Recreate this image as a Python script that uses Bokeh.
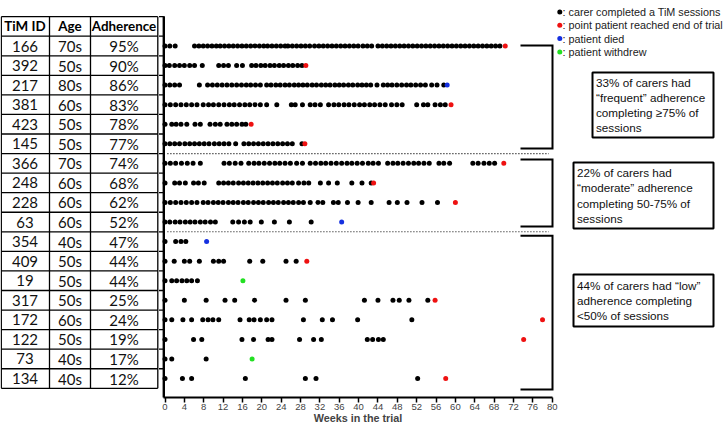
from bokeh.plotting import figure
from bokeh.models import Range1d, LinearAxis, FixedTicker, ColumnDataSource
from bokeh.core.properties import value
from bokeh.embed import file_html
from bokeh.resources import INLINE

# ---------------- data ----------------
tim_ids = [166, 392, 217, 381, 423, 145, 366, 248, 228, 63, 354, 409, 19, 317, 172, 122, 73, 134]
age_groups = ["70s", "50s", "80s", "60s", "50s", "50s", "70s", "60s", "60s", "60s",
              "40s", "50s", "50s", "50s", "60s", "50s", "40s", "40s"]
adherence_pct = [95, 90, 86, 83, 78, 77, 74, 68, 62, 52, 47, 44, 44, 25, 24, 19, 17, 12]

# weeks in the trial at which the carer completed a TiM session
s166 = [0, 1.0, 2.1, 6.1, 7.0, 7.9, 8.8, 9.7, 10.6, 11.4, 12.3, 13.2, 14.1, 15.0, 15.9, 16.8, 17.7,
        18.6, 19.5, 20.4, 21.2, 22.1, 23.0, 23.9, 24.8, 25.4, 26.3, 27.2, 28.1, 29.0, 29.9, 30.9,
        31.8, 32.7, 33.6, 34.5, 35.4, 36.3, 37.2, 38.1, 39.0, 39.9, 40.9, 41.8, 42.7, 44.0, 44.9,
        45.8, 46.7, 47.6, 48.5, 49.4, 50.3, 51.2, 52.1, 53.0, 53.9, 54.8, 55.7, 56.6, 57.5, 58.4,
        59.3, 60.2, 61.1, 62.0, 62.9, 63.8, 64.7, 65.6, 66.5, 67.4, 68.3, 69.2]
s392 = [0, 0.9, 2.0, 3.0, 4.0, 5.1, 6.1, 7.7, 11.1, 12.1, 13.1, 14.8, 16.0, 17.9, 18.8, 19.8, 20.7,
        21.7, 22.6, 23.6, 24.5, 25.5, 26.4, 27.4, 28.3]
s217 = [0, 1.0, 2.0, 3.0, 7.1, 8.8, 9.8, 10.8, 11.8, 12.8, 13.8, 14.8, 15.8, 16.8, 17.7, 18.7, 19.7,
        21.0, 21.9, 22.9, 23.8, 24.8, 25.7, 26.7, 27.6, 28.5, 29.4, 30.4, 31.3, 32.3, 33.2, 34.1,
        35.1, 36.0, 36.9, 37.9, 38.8, 39.8, 40.7, 41.6, 42.5, 43.8, 45.1, 46.0, 46.9, 47.9, 48.9,
        49.9, 50.8, 51.8, 52.8, 53.8, 55.1, 56.2, 57.6]
s381 = [0, 1.1, 2.2, 3.3, 4.4, 5.5, 6.6, 7.9, 9.0, 10.0, 11.1, 12.2, 13.3, 14.3, 15.4, 16.5, 17.5,
        18.6, 19.7, 21.0, 23.1, 26.1, 26.9, 28.4, 30.0, 31.0, 32.1, 33.8, 34.9, 35.9, 37.0, 38.0,
        39.1, 40.2, 41.2, 42.3, 43.3, 44.4, 45.5, 46.8, 47.9, 49.0, 52.0, 53.4, 54.3, 55.8, 56.9, 57.9]
s423 = [0, 1.4, 2.3, 3.3, 4.5, 6.2, 7.3, 9.3, 10.4, 11.4, 12.8, 13.8, 14.8, 15.9, 16.7]
s145 = [0, 1.0, 2.0, 3.0, 4.1, 5.1, 6.1, 7.1, 8.1, 9.1, 10.2, 11.2, 12.2, 13.2, 14.6, 16.3, 17.3,
        18.3, 19.3, 20.3, 21.3, 22.3, 23.3, 24.3, 25.3, 26.3, 28.3]
s366 = [0, 1.1, 2.2, 3.4, 4.6, 5.8, 7.3, 12.2, 13.3, 14.5, 15.7, 17.3, 18.4, 19.4, 20.5, 21.6, 22.7,
        23.7, 24.8, 25.9, 27.2, 28.4, 30.0, 31.1, 32.2, 33.2, 34.3, 35.4, 36.5, 37.6, 38.6, 39.7,
        40.8, 42.0, 43.0, 44.1, 46.0, 47.1, 48.1, 49.2, 50.3, 51.4, 52.4, 53.5, 54.6, 56.6, 57.6,
        58.8, 63.6, 64.7, 65.9, 67.0, 68.1]
s248 = [0, 2.0, 3.0, 4.2, 5.9, 6.9, 8.1, 11.1, 12.1, 13.1, 14.1, 15.2, 16.2, 17.2, 18.2, 19.2, 20.2,
        21.2, 22.2, 23.2, 24.3, 25.3, 26.3, 27.6, 28.7, 29.7, 32.1, 33.8, 35.6, 38.6, 40.7, 42.6]
s228 = [0, 1.1, 2.2, 3.3, 4.4, 5.5, 6.6, 7.9, 8.9, 10.0, 11.0, 12.0, 13.1, 14.1, 15.1, 16.2, 17.2,
        18.3, 19.3, 20.3, 21.4, 22.4, 23.4, 24.5, 25.5, 26.5, 27.6, 28.6, 30.0, 31.6, 32.6, 34.8,
        35.8, 37.7, 39.9, 42.6, 46.3, 48.0, 50.0, 53.1, 56.3]
s63 = [0, 1.0, 2.1, 3.1, 4.2, 5.2, 6.2, 7.3, 8.3, 9.4, 10.4, 14.0, 15.2, 16.4, 17.6, 19.9, 22.6,
       25.7, 30.2]
s354 = [0, 2.2, 3.3, 4.3]
s409 = [0, 1.9, 4.0, 5.1, 7.1, 10.0, 11.1, 12.1, 17.5, 20.2, 25.0, 27.1]
s19 = [0, 1.4, 2.4, 3.5, 4.5, 5.5, 6.7]
s317 = [0, 4.0, 8.5, 12.4, 14.4, 18.5, 25.0, 29.0, 41.2, 44.0, 47.1, 48.4, 50.4, 54.3]
s172 = [0, 1.4, 3.7, 5.5, 7.8, 8.9, 9.9, 11.1, 15.5, 17.4, 18.4, 19.7, 21.0, 22.1, 28.6, 32.5, 34.6,
        39.8, 51.0]
s122 = [0, 5.9, 7.6, 15.9, 18.3, 21.3, 22.1, 27.8, 30.7, 32.3, 41.8, 42.9, 44.1, 45.1]
s73 = [0, 1.4, 8.5]
s134 = [0, 3.6, 5.5, 16.6, 29.0, 31.2, 52.2]
sessions = [s166, s392, s217, s381, s423, s145, s366, s248, s228, s63,
            s354, s409, s19, s317, s172, s122, s73, s134]

# week at which the patient reached end of trial / died / withdrew
end_of_trial = [70.3, 29.1, None, 59.1, 17.8, 28.9, 70.0, 43.1, 60.0, None,
                None, 29.3, None, 55.8, 78.0, 74.1, None, 58.0]
patient_died = [None, None, 58.3, None, None, None, None, None, None, 36.5,
                8.6, None, None, None, None, None, None, None]
patient_withdrew = [None, None, None, None, None, None, None, None, None, None,
                    None, None, 16.1, None, None, None, 18.0, None]

week_ticks = list(range(0, 81, 4))
legend_labels = [": carer completed a TiM sessions", ": point patient reached end of trial",
                 ": patient died", ": patient withdrew"]
box_texts = [["33% of carers had", "\u201cfrequent\u201d adherence", "completing \u226575% of", "sessions"],
             ["22% of carers had", "\u201cmoderate\u201d adherence", "completing 50-75% of", "sessions"],
             ["44% of carers had \u201clow\u201d", "adherence completing", "<50% of sessions"]]

# ---------------- layout (pixel space of the page) ----------------
REF_W, REF_H, AXIS_Y = 727, 426, 397
X0, PX_WK = 164.5, 4.84
ROW0, ROW_H = 45.5, 19.56
C_BLACK, C_RED, C_BLUE, C_GREEN = "#000000", "#ee1111", "#1530e0", "#22e022"
SANS = value("Liberation Sans")
TAB = value("Lato")

p = figure(width=REF_W, height=REF_H, output_backend="svg", toolbar_location=None,
           x_range=Range1d(0, REF_W), y_range=Range1d(REF_H, 0),
           x_axis_type=None, y_axis_type=None, min_border=0)
p.outline_line_color = None
p.background_fill_color = "white"
p.extra_x_ranges = {"weeks": Range1d(-X0 / PX_WK, (REF_W - X0) / PX_WK)}
p.extra_y_ranges = {"rows": Range1d((REF_H - ROW0) / ROW_H, -ROW0 / ROW_H)}

# x axis (weeks), pinned at the bottom of the dot area
xax = LinearAxis(x_range_name="weeks", ticker=FixedTicker(ticks=week_ticks), bounds=(-0.3, 80),
                 axis_label="Weeks in the trial", fixed_location=AXIS_Y)
xax.axis_line_width = 2
xax.major_tick_line_width = 1.5
xax.major_tick_out = 5
xax.major_tick_in = 0
xax.minor_tick_out = 0
xax.minor_tick_in = 0
xax.major_label_standoff = 1
xax.major_label_text_font = "Liberation Sans"
xax.major_label_text_font_size = "9.5px"
xax.axis_label_text_font = "Liberation Sans"
xax.axis_label_text_font_style = "bold"
xax.axis_label_text_font_size = "10.8px"
xax.axis_label_standoff = -1
p.add_layout(xax, "below")

n = len(tim_ids)

# table grid
tab_lines_y = [i - 0.5 for i in range(-1, n + 1)]
p.segment(x0=0.8, x1=157.3, y0=tab_lines_y, y1=tab_lines_y, y_range_name="rows",
          line_color="black", line_width=1.3)
p.segment(x0=[0.8, 49, 90, 157.3], x1=[0.8, 49, 90, 157.3], y0=-1.5, y1=n - 0.5,
          y_range_name="rows", line_color="black", line_width=1.3)

# table text
col_x = [24.5, 69.5, 123.5]
head = ColumnDataSource(dict(x=col_x, y=[-1] * 3, t=["TiM ID", "Age", "Adherence"]))
p.text(x="x", y="y", text="t", source=head, y_range_name="rows", text_font=TAB,
       text_font_style="bold", text_font_size=value("13.4px"), text_align="center",
       text_baseline="middle", text_color="black")
cx, cy, ct = [], [], []
for i in range(n):
    for j, t in enumerate([str(tim_ids[i]), age_groups[i], f"{adherence_pct[i]}%"]):
        cx.append(col_x[j]); cy.append(i); ct.append(t)
body = ColumnDataSource(dict(x=cx, y=cy, t=ct))
p.text(x="x", y="y", text="t", source=body, y_range_name="rows", text_font=TAB,
       text_font_size=value("15px"), text_align="center", text_baseline="middle",
       text_color="#111111")

# y axis line and ticks
p.segment(x0=163.3, x1=163.3, y0=15.7, y1=AXIS_Y, line_color="black", line_width=2.4)
tick_rows = [i - 0.5 for i in range(-1, n)]
p.segment(x0=158.5, x1=163.3, y0=tick_rows, y1=tick_rows, y_range_name="rows",
          line_color="black", line_width=1.3)

# dotted group separators
p.segment(x0=0.5, x1=79.3, y0=[5.5, 9.5], y1=[5.5, 9.5], x_range_name="weeks",
          y_range_name="rows", line_color="black", line_width=1.1, line_dash="1 2")

# dots
def pts(vals):
    xs, ys = [], []
    for i, v in enumerate(vals):
        if v is None:
            continue
        if isinstance(v, list):
            xs += v; ys += [i] * len(v)
        else:
            xs.append(v); ys.append(i)
    return xs, ys

DOT = 5.0
for vals, col in [(sessions, C_BLACK), (end_of_trial, C_RED), (patient_died, C_BLUE),
                  (patient_withdrew, C_GREEN)]:
    xs, ys = pts(vals)
    p.scatter(x=xs, y=ys, x_range_name="weeks", y_range_name="rows", size=DOT,
              fill_color=col, line_color=None)

# brackets
p.multi_line(xs=[[520, 552, 552, 520]] * 3,
             ys=[[45, 45, 148, 148], [159, 159, 226, 226], [235.3, 235.3, 389, 389]],
             line_color="black", line_width=2, line_join="miter")

# legend
leg_y = [11.5, 24.8, 38.1, 51.4]
p.scatter(x=[559.3] * 4, y=leg_y, size=5, fill_color=[C_BLACK, C_RED, C_BLUE, C_GREEN],
          line_color=None)
p.text(x=[562.0] * 4, y=leg_y, text=legend_labels, text_font=SANS,
       text_font_size=value("10.8px"), text_baseline="middle", text_color="#222222")

# annotation boxes
p.quad(left=[592, 573, 573], right=[713, 713, 713], top=[72, 162, 274], bottom=[137, 228, 326],
       fill_color=None, line_color="black", line_width=2)
box_left = [595.5, 576.5, 576.5]
box_first = [81.7, 172.3, 285.0]
bx, by, bt = [], [], []
for k, lines in enumerate(box_texts):
    for m, t in enumerate(lines):
        bx.append(box_left[k]); by.append(box_first[k] + 15.1 * m); bt.append(t)
p.text(x=bx, y=by, text=bt, text_font=SANS, text_font_size=value("11.7px"),
       text_baseline="middle", text_color="#111111")

open("out.html", "w").write(file_html(p, INLINE))
